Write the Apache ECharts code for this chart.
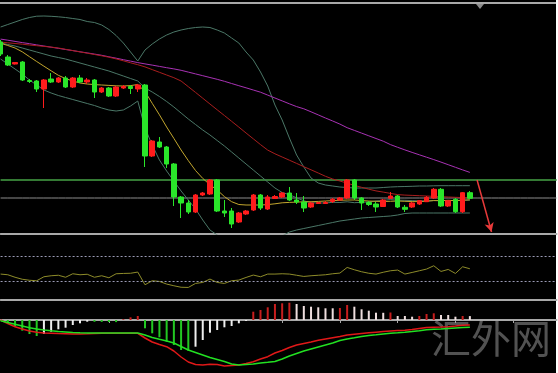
<!DOCTYPE html>
<html><head><meta charset="utf-8">
<script src="https://cdn.jsdelivr.net/npm/echarts@6/dist/echarts.min.js"></script>
<style>html,body{margin:0;padding:0;background:#fff;overflow:hidden}#c{width:558px;height:373px}</style>
</head><body><div id="c"></div><script>
// ---- candle data (price) ----
var open = [1.2358,1.2343,1.2336,1.2338,1.23195,1.2319,1.2311,1.2321,1.2318,1.2322,
1.2313,1.2322,1.2318,1.2320,1.2308,1.2312,1.2304,1.2312,1.23135,1.2311,
1.2315,1.2244,1.2258,1.2253,1.2236,1.2203,1.2197,1.2188,1.2205,1.2206,
1.2220,1.2189,1.2189,1.2178,1.2186,1.2190,1.2205,1.2191,1.22015,1.2203,
1.2207,1.2200,1.2198,1.2193,1.21965,1.21965,1.21985,1.2200,1.2202,1.2220,
1.2202,1.21975,1.2196,1.21935,1.22017,1.2204,1.21927,1.2193,1.2196,1.21983,
1.2202,1.22107,1.2194,1.22007,1.21883,1.22073];
var close = [1.2346,1.2335,1.23375,1.2320,1.23185,1.2311,1.2320,1.2318,1.2322,1.2313,
1.2322,1.2318,1.2320,1.2308,1.2312,1.2304,1.2313,1.23135,1.23115,1.2315,
1.2244,1.2259,1.2253,1.2236,1.2203,1.2197,1.2188,1.2205,1.2207,1.2220,
1.2189,1.2187,1.2176,1.2187,1.2189,1.2205,1.2192,1.2203,1.22035,1.2207,
1.2200,1.2198,1.2192,1.2197,1.21975,1.21975,1.22007,1.2202,1.2220,1.2202,
1.2197,1.21955,1.2193,1.2200,1.2204,1.2193,1.21907,1.2197,1.21993,1.22027,
1.22107,1.2194,1.21993,1.21883,1.22073,1.22017];
var low = [1.2344,1.2334,1.23355,1.2319,1.2317,1.2308,1.2292,1.2317,1.2317,1.2312,
1.2312,1.2317,1.2316,1.2302,1.2307,1.2303,1.2303,1.2311,1.2306,1.2308,
1.2233,1.2243,1.2252,1.2232,1.2194,1.2182,1.2186,1.2187,1.2204,1.2205,
1.2188,1.2183,1.2172,1.2177,1.2185,1.2189,1.2190,1.2190,1.2201,1.2202,
1.2199,1.2196,1.2188,1.2192,1.2196,1.2196,1.2197,1.2199,1.2201,1.2200,
1.2190,1.2194,1.2188,1.2193,1.2201,1.2192,1.2188,1.2192,1.2195,1.2198,
1.2201,1.2193,1.2193,1.2187,1.2187,1.2201];
var high = [1.2360,1.2345,1.2338,1.2339,1.2321,1.2320,1.2321,1.2327,1.2323,1.2324,
1.2323,1.2325,1.2322,1.2321,1.2313,1.2313,1.2314,1.2315,1.2315,1.2316,
1.2316,1.2260,1.2263,1.2254,1.2237,1.2204,1.2200,1.2206,1.2208,1.2221,
1.2221,1.2200,1.2192,1.2188,1.2190,1.2206,1.2206,1.2205,1.2205,1.2208,
1.2213,1.2207,1.2204,1.2198,1.2198,1.2199,1.2202,1.2203,1.2221,1.2221,
1.2203,1.2199,1.2198,1.2201,1.2208,1.2205,1.2195,1.2198,1.2200,1.2204,
1.2212,1.2212,1.2200,1.2202,1.2208,1.2209];

// ---- overlays ----
var maSlow = [1.23609,1.23598,1.23586,1.23574,1.23563,1.23551,1.23540,1.23528,1.23517,1.23505,
1.23494,1.23482,1.23471,1.23459,1.23447,1.23432,1.23418,1.23403,1.23389,1.23374,
1.23361,1.23349,1.23336,1.23323,1.23311,1.23297,1.23279,1.23261,1.23243,1.23225,
1.23207,1.23187,1.23165,1.23143,1.23122,1.23100,1.23078,1.23049,1.23020,1.22991,
1.22962,1.22934,1.22912,1.22882,1.22851,1.22820,1.22790,1.22759,1.22723,1.22696,
1.22669,1.22642,1.22615,1.22588,1.22554,1.22527,1.22501,1.22476,1.22452,1.22428,
1.22404,1.22379,1.22353,1.22327,1.22301,1.22276];
var maMid = [1.23579,1.23572,1.23565,1.23558,1.23550,1.23543,1.23536,1.23529,1.23520,1.23507,
1.23494,1.23481,1.23468,1.23455,1.23442,1.23428,1.23411,1.23392,1.23372,1.23353,
1.23331,1.23304,1.23277,1.23250,1.23223,1.23190,1.23133,1.23076,1.23018,1.22960,
1.22902,1.22845,1.22787,1.22729,1.22670,1.22612,1.22554,1.22499,1.22462,1.22430,
1.22398,1.22366,1.22333,1.22302,1.22270,1.22237,1.22210,1.22190,1.22168,1.22146,
1.22127,1.22108,1.22091,1.22079,1.22066,1.22054,1.22049,1.22046,1.22043,1.22040,
1.22036,1.22033,1.22030,1.22027,1.22024,1.22021];
var maFast = [1.23568,1.23545,1.23520,1.23482,1.23433,1.23385,1.23338,1.23292,1.23247,1.23214,
1.23190,1.23170,1.23160,1.23154,1.23150,1.23146,1.23142,1.23140,1.23144,1.23155,
1.23085,1.22967,1.22852,1.22730,1.22616,1.22500,1.22394,1.22295,1.22216,1.22152,
1.22100,1.22034,1.21983,1.21955,1.21950,1.21950,1.21950,1.21954,1.21962,1.21972,
1.21976,1.21979,1.21982,1.21983,1.21986,1.21990,1.21994,1.21997,1.22000,1.22000,
1.21995,1.21990,1.21987,1.21985,1.21987,1.21990,1.21987,1.21984,1.21984,1.21988,
1.21994,1.21994,1.21996,1.21994,1.21998,1.22002];
var bbMid = [1.23570,1.23555,1.23540,1.23520,1.23500,1.23480,1.23460,1.23440,1.23425,1.23410,
1.23390,1.23370,1.23350,1.23330,1.23310,1.23290,1.23265,1.23240,1.23215,1.23190,
1.23120,1.23080,1.23035,1.22985,1.22930,1.22870,1.22810,1.22755,1.22700,1.22650,
1.22595,1.22540,1.22480,1.22420,1.22360,1.22300,1.22240,1.22180,1.22120,1.22075,
1.22053,1.22022,1.21992,1.21973,1.21970,1.21970,1.21977,1.21975,1.21982,1.21973,
1.21977,1.21981,1.21990,1.21996,1.22004,1.21998,1.21997,1.21994,1.21992,1.21990,
1.21995,1.21993,1.21997,1.21993,1.21998,1.21998];
var bbUp = [1.23730,1.23755,1.23780,1.23805,1.23825,1.23838,1.23840,1.23837,1.23832,1.23825,
1.23815,1.23805,1.23785,1.23775,1.23750,1.23705,1.23645,1.23570,1.23480,1.23390,
1.23500,1.23560,1.23610,1.23650,1.23680,1.23700,1.23715,1.23725,1.23730,1.23725,
1.23700,1.23670,1.23620,1.23570,1.23480,1.23400,1.23280,1.23140,1.22950,1.22800,
1.22620,1.22450,1.22330,1.22220,1.22170,1.22150,1.22140,1.22130,1.22125,1.22120,
1.22120,1.22120,1.22120,1.22125,1.22130,1.22133,1.22135,1.22137,1.22140,1.22140,
1.22142,1.22143,1.22143,1.22143,1.22143,1.22143];
var bbLow = [1.23410,1.23360,1.23310,1.23260,1.23200,1.23150,1.23100,1.23070,1.23045,1.23025,
1.23005,1.22985,1.22965,1.22945,1.22920,1.22900,1.22890,1.22900,1.22940,1.22990,
1.22720,1.22550,1.22400,1.22290,1.22190,1.22090,1.22000,1.21910,1.21800,1.21700,
1.21650,1.21610,1.21580,1.21550,1.21540,1.21540,1.21550,1.21570,1.21600,1.21640,
1.21680,1.21700,1.21715,1.21730,1.21745,1.21760,1.21775,1.21790,1.21800,1.21810,
1.21820,1.21825,1.21830,1.21835,1.21840,1.21850,1.21865,1.21870,1.21870,1.21870,
1.21870,1.21870,1.21870,1.21870,1.21870,1.21870];
var levelGreen = 1.2220, levelGray = 1.2202;
var arrowFrom = ['K66', 1.2220], arrowTo = ['K68', 1.2168];

// ---- oscillators ----
var rsi = [40.7,39.6,35.6,32.4,30.8,30.0,36.4,38.0,38.8,35.6,
41.2,39.6,40.4,35.6,38.0,34.8,41.2,41.7,42.0,43.9,
23.6,30.0,28.9,24.7,22.0,19.6,19.3,25.7,27.3,32.7,
27.3,25.7,30.0,31.1,35.3,39.1,36.4,40.7,40.7,41.2,
40.7,38.8,36.9,38.0,38.8,39.6,41.2,42.3,51.3,47.6,
44.4,42.0,40.7,43.6,46.0,47.1,40.7,43.3,46.0,48.7,
54.0,44.9,48.1,41.7,52.4,49.2];
var rsiLevels = [70, 30];
var macdHist = [-1,-3,-6.7,-10.7,-14,-16,-14,-11.7,-9.3,-7.7,
-5,-3.3,-1.7,-1.8,-1.9,-2.0,-2.1,0.7,2.7,4,
-8.3,-13.3,-17.3,-21.7,-25,-30,-30.7,-26.7,-20,-12.7,
-10,-7.3,-6,-3.3,-1,8.3,10,12.7,16,16.7,
17.3,16,14,13.3,12.7,11.7,11.7,12,15,13.3,
10.7,9.3,7.3,7.2,7.5,4,4,3.3,4,6,
6.7,5,5,3.3,4,3.9];
var macdLine = [0,-3.5,-6.7,-9,-11,-12.3,-13,-13.3,-13.6,-13.8,
-14,-14,-13.8,-13.5,-13.3,-13.3,-13.3,-13.3,-13.3,-13.3,
-18,-22,-24.5,-26.7,-31,-37,-42,-44.5,-45,-44.3,
-44.5,-46,-45.5,-45,-43.5,-41.7,-39,-36.7,-33,-30.5,
-27.5,-25,-23.5,-22,-20.3,-19,-17.7,-16.5,-15,-14.2,
-13.5,-12.8,-12.2,-11.6,-11,-10.6,-10.2,-9.5,-8.5,-7.5,
-7.2,-7,-6.7,-6,-5.2,-5];
var signalLine = [-0.7,-2.5,-4.3,-6,-7.7,-9,-10,-10.8,-11.5,-12,
-12.5,-12.8,-13,-13,-13,-13,-13,-13,-13,-13,
-15,-17.5,-19.3,-21,-23,-26.5,-30,-32.5,-35,-37.5,
-39.5,-41.5,-44,-45,-44.5,-44,-43,-42.3,-41.5,-39,
-36,-33.5,-31,-29,-27,-25,-23,-20.5,-19,-17.8,
-16.5,-15.5,-14.8,-14,-13.3,-12.8,-12.2,-11.5,-10.7,-9.8,
-9.3,-9,-8.5,-8,-7.6,-7.3];

var slots = 78; // bars incl. right-side chart shift
var cats = [];
for (var i = 0; i < slots; i++) cats.push('K' + i);
var candles = open.map(function (o, i) { return [o, close[i], low[i], high[i]]; });
function levelRow(v) { return cats.map(function () { return v; }); }

var chart = echarts.init(document.getElementById('c'), null, {renderer: 'canvas'});
var GL = 0.6, GW = 555.9;
function xAx(idx, lineShow, tick) {
  return {type: 'category', gridIndex: idx, data: cats, boundaryGap: false,
    axisLine: {show: lineShow, lineStyle: {color: '#a8a8a8', width: 2}},
    axisTick: tick ? {show: true, length: 3, lineStyle: {color: '#a8a8a8'}, interval: function (i) { return i % 8 === 7; }} : {show: false},
    axisLabel: {show: false}, splitLine: {show: false}};
}
function ln(name, data, color, w, xi, yi, extra) {
  var s = {type: 'line', name: name, data: data, xAxisIndex: xi || 0, yAxisIndex: yi || 0,
    symbol: 'none', smooth: false, silent: true, lineStyle: {color: color, width: w || 1}, z: 3};
  if (extra) for (var k in extra) s[k] = extra[k];
  return s;
}
var bandCol = '#4b7767';
chart.setOption({
  animation: false,
  backgroundColor: '#000',
  grid: [
    {left: GL, width: GW, top: 4, height: 230},
    {left: GL, width: GW, top: 237, height: 62.5},
    {left: GL, width: GW, top: 301, height: 69}
  ],
  xAxis: [xAx(0, true, false), xAx(1, true, false), xAx(2, true, true)],
  yAxis: [
    {gridIndex: 0, min: 1.2166, max: 1.2396, show: false},
    {gridIndex: 1, min: 0, max: 100, show: false},
    {gridIndex: 2, min: -50, max: 19, show: false}
  ],
  series: [
    ln('level green', levelRow(levelGreen), '#347a34', 2, 0, 0, {z: 2}),
    ln('level gray', levelRow(levelGray), '#8c8c8c', 1, 0, 0, {z: 2}),
    ln('BB upper', bbUp, bandCol, 1),
    ln('BB lower', bbLow, bandCol, 1),
    ln('BB middle', bbMid, bandCol, 1),
    ln('MA slow', maSlow, '#a832b4', 1, 0, 0, {
      markLine: {silent: true, symbol: ['none', 'arrow'], symbolSize: [7, 9], label: {show: false},
        lineStyle: {color: '#e83a3a', width: 1.5, type: 'solid'},
        data: [[{coord: arrowFrom}, {coord: arrowTo}]]}
    }),
    ln('MA mid', maMid, '#a81e1e', 1),
    ln('MA fast', maFast, '#c2a62e', 1),
    {type: 'candlestick', name: 'price', data: candles, barWidth: 5, z: 4, silent: true,
      itemStyle: {color: '#ff1c1c', color0: '#2ae62a', borderColor: '#ff1c1c', borderColor0: '#2ae62a', borderWidth: 1}
    },
    ln('RSI', rsi, '#8e8c2a', 1, 1, 1, {
      markLine: {silent: true, symbol: 'none', label: {show: false},
        lineStyle: {color: '#9a9ab4', width: 1, type: [2, 2]},
        data: rsiLevels.map(function (v) { return {yAxis: v}; })}
    }),
    {type: 'bar', name: 'hist', data: macdHist, xAxisIndex: 2, yAxisIndex: 2, barWidth: 2, silent: true,
      itemStyle: {color: function (p) {
        var v = macdHist[p.dataIndex], pv = p.dataIndex > 0 ? macdHist[p.dataIndex - 1] : 0;
        if (v >= 0) return v > pv ? '#c81e1e' : '#eedede';
        return v < pv ? '#22c822' : '#eeeeee';
      }}},
    ln('MACD', macdLine, '#e01818', 1.5, 2, 2),
    ln('Signal', signalLine, '#22e022', 1.5, 2, 2)
  ],
  graphic: [
    {type: 'rect', shape: {x: 0, y: 2, width: 557, height: 2}, style: {fill: '#a8a8a8'}, silent: true},
    {type: 'polygon', shape: {points: [[476, 4], [484, 4], [480, 9]]}, style: {fill: '#8a8a8a'}, silent: true},
    {type: 'rect', shape: {x: 556, y: 0, width: 2, height: 373}, style: {fill: '#ffffff'}, silent: true},
    {type: 'text', left: 431, top: 318, silent: true, z: 0,
      style: {text: '汇外网', fill: 'rgba(110,110,110,0.75)', font: '40px "Noto Sans CJK SC"'}}
  ]
});
</script></body></html>
